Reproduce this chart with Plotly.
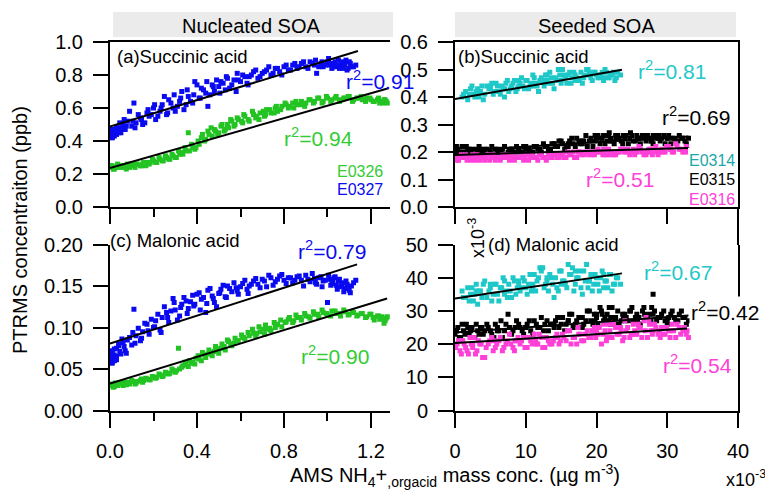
import plotly.graph_objects as go

# ---------------- data ----------------
# AMS NH4+,orgacid mass conc. for each experiment (two sampling passes)
x_E0326 = [0.00, 0.01, 0.02, 0.03, 0.05, 0.06, 0.08, 0.09, 0.11, 0.12,
           0.14, 0.15, 0.17, 0.18, 0.20, 0.21, 0.23, 0.24, 0.26, 0.27,
           0.29, 0.30, 0.32, 0.33, 0.35, 0.36, 0.38, 0.39, 0.41, 0.42,
           0.44, 0.45, 0.47, 0.48, 0.50, 0.51, 0.53, 0.54, 0.56, 0.57,
           0.59, 0.61, 0.62, 0.64, 0.66, 0.67, 0.69, 0.71, 0.72, 0.74,
           0.76, 0.77, 0.79, 0.81, 0.82, 0.84, 0.86, 0.88, 0.90, 0.92,
           0.94, 0.96, 0.98, 1.00, 1.02, 1.04, 1.06, 1.08, 1.10, 1.12,
           1.14, 1.16, 1.18, 1.20, 1.21, 1.23, 1.24, 1.25, 1.26, 1.27]
x_E0326_b = [0.005, 0.015, 0.025, 0.035, 0.045, 0.065, 0.075, 0.085, 0.10, 0.115,
             0.125, 0.145, 0.155, 0.165, 0.185, 0.195, 0.215, 0.225, 0.245, 0.255,
             0.275, 0.285, 0.305, 0.315, 0.335, 0.345, 0.365, 0.375, 0.395, 0.405,
             0.425, 0.435, 0.455, 0.465, 0.485, 0.495, 0.515, 0.525, 0.545, 0.555,
             0.575, 0.585, 0.605, 0.615, 0.635, 0.655, 0.675, 0.685, 0.705, 0.715,
             0.735, 0.755, 0.765, 0.785, 0.805, 0.825, 0.845, 0.855, 0.875, 0.895,
             0.915, 0.935, 0.955, 0.975, 0.995, 1.015, 1.035, 1.055, 1.075, 1.095,
             1.115, 1.135, 1.155, 1.175, 1.195, 1.215, 1.235, 1.255, 1.265, 1.275]
x_E0327 = [0.00, 0.00, 0.01, 0.01, 0.02, 0.02, 0.03, 0.04, 0.05, 0.06,
           0.07, 0.08, 0.10, 0.11, 0.12, 0.14, 0.15, 0.17, 0.18, 0.20,
           0.21, 0.23, 0.24, 0.26, 0.27, 0.29, 0.30, 0.32, 0.33, 0.35,
           0.36, 0.38, 0.39, 0.41, 0.42, 0.44, 0.45, 0.47, 0.48, 0.50,
           0.51, 0.53, 0.54, 0.56, 0.58, 0.59, 0.61, 0.63, 0.64, 0.66,
           0.68, 0.70, 0.72, 0.74, 0.76, 0.78, 0.80, 0.82, 0.84, 0.86,
           0.88, 0.90, 0.92, 0.94, 0.95, 0.97, 0.98, 1.00, 1.01, 1.02,
           1.03, 1.04, 1.05, 1.06, 1.07, 1.08, 1.09, 1.10, 1.11, 1.13]
x_E0327_b = [0.00, 0.01, 0.01, 0.02, 0.02, 0.03, 0.03, 0.04, 0.045, 0.055,
             0.065, 0.075, 0.09, 0.105, 0.115, 0.13, 0.145, 0.16, 0.175, 0.19,
             0.205, 0.22, 0.235, 0.25, 0.265, 0.28, 0.295, 0.31, 0.325, 0.34,
             0.355, 0.37, 0.385, 0.40, 0.415, 0.43, 0.445, 0.46, 0.475, 0.49,
             0.505, 0.52, 0.535, 0.55, 0.57, 0.585, 0.60, 0.62, 0.635, 0.65,
             0.67, 0.69, 0.71, 0.73, 0.75, 0.77, 0.79, 0.81, 0.83, 0.85,
             0.87, 0.89, 0.91, 0.93, 0.945, 0.96, 0.975, 0.99, 1.005, 1.015,
             1.025, 1.035, 1.045, 1.055, 1.065, 1.075, 1.085, 1.095, 1.105, 1.12]
x_E0314 = [1.0, 1.5, 2.0, 2.4, 2.8, 3.2, 3.6, 4.0, 4.5, 5.0,
           5.4, 5.8, 6.2, 6.6, 7.0, 7.4, 7.8, 8.2, 8.6, 9.0,
           9.4, 9.8, 10.2, 10.6, 11.0, 11.4, 11.8, 12.2, 12.6, 13.0,
           13.4, 13.8, 14.2, 14.6, 15.0, 15.4, 15.8, 16.2, 16.6, 17.0,
           17.4, 17.8, 18.2, 18.6, 19.0, 19.4, 19.8, 20.2, 20.6, 21.0,
           21.4, 21.8, 22.2, 22.6, 23.0, 23.4, 12.0, 14.0, 16.0, 18.0]
x_E0314_b = [1.2, 1.8, 2.2, 2.6, 3.0, 3.4, 3.8, 4.2, 4.8, 5.2,
             5.6, 6.0, 6.4, 6.8, 7.2, 7.6, 8.0, 8.4, 8.8, 9.2,
             9.6, 10.0, 10.4, 10.8, 11.2, 11.6, 12.4, 12.8, 13.2, 13.6,
             14.4, 14.8, 15.2, 15.6, 16.4, 16.8, 17.2, 17.6, 18.4, 18.8,
             19.2, 19.6, 20.0, 20.4, 20.8, 21.2, 21.6, 22.0, 22.4, 22.8,
             3.0, 5.0, 7.0, 9.0, 11.0, 13.0, 15.0, 17.0, 19.0, 21.0]
x_E0315 = [0.0, 0.4, 0.8, 1.2, 1.6, 2.0, 2.4, 2.8, 3.2, 3.6,
           4.0, 4.5, 5.0, 5.5, 6.0, 6.5, 7.0, 7.5, 8.0, 8.5,
           9.0, 9.5, 10.0, 10.5, 11.0, 11.5, 12.0, 12.5, 13.0, 13.5,
           14.0, 14.5, 15.0, 15.5, 16.0, 16.5, 17.0, 17.5, 18.0, 18.5,
           19.0, 19.5, 20.0, 20.5, 21.0, 21.5, 22.0, 22.5, 23.0, 23.5,
           24.0, 24.5, 25.0, 25.5, 26.0, 26.5, 27.0, 27.5, 28.0, 28.5,
           29.0, 29.5, 30.0, 30.5, 31.0, 31.5, 32.0, 32.5, 33.0, 0.2,
           19.8, 20.8, 21.8, 22.8, 23.8, 24.8, 25.8, 26.8, 27.8, 28.8]
x_E0315_b = [0.2, 0.6, 1.0, 1.4, 1.8, 2.2, 2.6, 3.0, 3.4, 3.8,
             4.2, 4.7, 5.2, 5.7, 6.2, 6.7, 7.2, 7.7, 8.2, 8.7,
             9.2, 9.7, 10.2, 10.7, 11.2, 11.7, 12.2, 12.7, 13.2, 13.7,
             14.2, 14.7, 15.2, 15.7, 16.2, 16.7, 17.2, 17.7, 18.2, 18.7,
             19.2, 19.7, 20.2, 20.7, 21.2, 21.7, 22.2, 22.7, 23.2, 23.7,
             24.2, 24.7, 25.2, 25.7, 26.2, 26.7, 27.2, 27.7, 28.2, 28.7,
             29.2, 29.7, 30.2, 30.7, 31.2, 31.7, 32.2, 32.7, 2.0, 6.0,
             10.0, 14.0, 16.0, 18.0, 20.0, 22.0, 24.0, 26.0, 28.0, 30.0]
x_E0316 = [0.1, 0.5, 0.9, 1.3, 1.7, 2.1, 2.5, 2.9, 3.3, 3.7,
           4.2, 4.7, 5.2, 5.7, 6.2, 6.7, 7.2, 7.7, 8.2, 8.7,
           9.2, 9.7, 10.2, 10.7, 11.2, 11.7, 12.2, 12.7, 13.2, 13.7,
           14.2, 14.7, 15.2, 15.7, 16.2, 16.7, 17.2, 17.7, 18.2, 18.7,
           19.2, 19.7, 20.2, 20.7, 21.2, 21.7, 22.2, 22.7, 23.2, 23.7,
           24.2, 24.7, 25.2, 25.7, 26.2, 26.7, 27.2, 27.7, 28.2, 28.7,
           29.2, 29.7, 30.2, 30.7, 31.2, 31.7, 32.2, 32.7, 33.0, 1.0,
           20.0, 21.0, 22.0, 23.0, 24.0, 25.0, 26.0, 27.0, 28.0, 29.0]
x_E0316_b = [0.3, 0.7, 1.1, 1.5, 1.9, 2.3, 2.7, 3.1, 3.5, 3.9,
             4.4, 4.9, 5.4, 5.9, 6.4, 6.9, 7.4, 7.9, 8.4, 8.9,
             9.4, 9.9, 10.4, 10.9, 11.4, 11.9, 12.4, 12.9, 13.4, 13.9,
             14.4, 14.9, 15.4, 15.9, 16.4, 16.9, 17.4, 17.9, 18.4, 18.9,
             19.4, 19.9, 20.4, 20.9, 21.4, 21.9, 22.4, 22.9, 23.4, 23.9,
             24.4, 24.9, 25.4, 25.9, 26.4, 26.9, 27.4, 27.9, 28.4, 28.9,
             29.4, 29.9, 30.4, 30.9, 31.4, 31.9, 32.4, 32.8, 2.5, 5.5,
             8.5, 11.5, 14.5, 17.5, 19.5, 21.5, 23.5, 25.5, 27.5, 30.5]

# PTRMS succinic acid (ppb)
succ_E0326 = [0.24, 0.25, 0.23, 0.24, 0.25, 0.24, 0.26, 0.24, 0.25, 0.26,
              0.25, 0.26, 0.27, 0.26, 0.28, 0.27, 0.29, 0.28, 0.30, 0.29,
              0.31, 0.30, 0.32, 0.33, 0.34, 0.45, 0.36, 0.35, 0.38, 0.42,
              0.41, 0.46, 0.43, 0.47, 0.45, 0.49, 0.47, 0.50, 0.52, 0.49,
              0.53, 0.51, 0.55, 0.52, 0.56, 0.54, 0.57, 0.55, 0.59, 0.57,
              0.60, 0.58, 0.61, 0.62, 0.60, 0.63, 0.62, 0.64, 0.63, 0.65,
              0.64, 0.66, 0.64, 0.66, 0.65, 0.67, 0.65, 0.66, 0.67, 0.65,
              0.66, 0.65, 0.66, 0.65, 0.64, 0.65, 0.63, 0.64, 0.65, 0.64]
succ_E0326_b = [0.25, 0.23, 0.24, 0.26, 0.24, 0.25, 0.23, 0.25, 0.26, 0.24,
                0.26, 0.25, 0.27, 0.25, 0.27, 0.29, 0.27, 0.30, 0.28, 0.31,
                0.29, 0.32, 0.30, 0.34, 0.32, 0.36, 0.34, 0.38, 0.36, 0.40,
                0.44, 0.40, 0.44, 0.48, 0.46, 0.44, 0.50, 0.46, 0.48, 0.53,
                0.50, 0.54, 0.52, 0.56, 0.53, 0.58, 0.55, 0.53, 0.58, 0.56,
                0.59, 0.57, 0.61, 0.59, 0.63, 0.61, 0.60, 0.64, 0.62, 0.61,
                0.65, 0.63, 0.66, 0.63, 0.67, 0.64, 0.66, 0.64, 0.66, 0.67,
                0.64, 0.66, 0.67, 0.64, 0.66, 0.64, 0.66, 0.63, 0.65, 0.63]
succ_E0327 = [0.43, 0.46, 0.44, 0.42, 0.45, 0.47, 0.44, 0.48, 0.45, 0.50,
              0.47, 0.52, 0.49, 0.63, 0.51, 0.54, 0.50, 0.57, 0.55, 0.60,
              0.53, 0.58, 0.62, 0.56, 0.65, 0.60, 0.58, 0.64, 0.70, 0.62,
              0.67, 0.63, 0.76, 0.66, 0.72, 0.69, 0.61, 0.74, 0.70, 0.73,
              0.76, 0.71, 0.78, 0.74, 0.70, 0.77, 0.80, 0.75, 0.79, 0.82,
              0.78, 0.81, 0.83, 0.80, 0.84, 0.82, 0.85, 0.83, 0.86, 0.84,
              0.87, 0.85, 0.88, 0.86, 0.81, 0.87, 0.85, 0.88, 0.86, 0.84,
              0.87, 0.85, 0.89, 0.86, 0.84, 0.87, 0.83, 0.88, 0.85, 0.86]
succ_E0327_b = [0.45, 0.42, 0.47, 0.44, 0.43, 0.46, 0.48, 0.45, 0.51, 0.47,
                0.53, 0.49, 0.58, 0.52, 0.48, 0.56, 0.53, 0.51, 0.59, 0.56,
                0.62, 0.55, 0.60, 0.67, 0.57, 0.63, 0.68, 0.61, 0.66, 0.59,
                0.71, 0.64, 0.68, 0.74, 0.66, 0.71, 0.76, 0.68, 0.73, 0.77,
                0.69, 0.75, 0.79, 0.72, 0.77, 0.81, 0.76, 0.79, 0.74, 0.80,
                0.83, 0.79, 0.82, 0.85, 0.81, 0.84, 0.80, 0.86, 0.83, 0.87,
                0.85, 0.88, 0.84, 0.87, 0.89, 0.85, 0.88, 0.86, 0.90, 0.87,
                0.85, 0.88, 0.86, 0.84, 0.88, 0.86, 0.89, 0.84, 0.87, 0.85]
succ_E0314 = [0.40, 0.42, 0.41, 0.44, 0.40, 0.43, 0.42, 0.39, 0.44, 0.43,
              0.41, 0.45, 0.42, 0.44, 0.40, 0.46, 0.43, 0.45, 0.42, 0.44,
              0.47, 0.43, 0.46, 0.44, 0.48, 0.45, 0.42, 0.47, 0.44, 0.46,
              0.49, 0.45, 0.47, 0.50, 0.46, 0.48, 0.45, 0.49, 0.47, 0.48,
              0.46, 0.49, 0.47, 0.50, 0.48, 0.46, 0.49, 0.47, 0.48, 0.46,
              0.49, 0.47, 0.48, 0.46, 0.49, 0.48, 0.46, 0.43, 0.48, 0.45]
succ_E0314_b = [0.41, 0.39, 0.43, 0.41, 0.42, 0.40, 0.44, 0.41, 0.43, 0.45,
                0.42, 0.44, 0.41, 0.43, 0.45, 0.42, 0.44, 0.46, 0.43, 0.45,
                0.44, 0.46, 0.43, 0.45, 0.47, 0.44, 0.46, 0.48, 0.45, 0.47,
                0.46, 0.48, 0.50, 0.47, 0.45, 0.49, 0.47, 0.46, 0.48, 0.50,
                0.47, 0.49, 0.48, 0.47, 0.49, 0.50, 0.47, 0.48, 0.49, 0.47,
                0.42, 0.44, 0.43, 0.46, 0.44, 0.48, 0.45, 0.46, 0.49, 0.47]
succ_E0315 = [0.20, 0.21, 0.19, 0.20, 0.22, 0.20, 0.21, 0.19, 0.20, 0.21,
              0.20, 0.21, 0.20, 0.19, 0.21, 0.20, 0.22, 0.20, 0.21, 0.20,
              0.21, 0.20, 0.22, 0.21, 0.20, 0.22, 0.21, 0.23, 0.22, 0.21,
              0.23, 0.22, 0.24, 0.21, 0.23, 0.25, 0.22, 0.24, 0.23, 0.26,
              0.24, 0.22, 0.25, 0.23, 0.26, 0.24, 0.25, 0.23, 0.26, 0.24,
              0.25, 0.23, 0.26, 0.24, 0.25, 0.26, 0.24, 0.25, 0.23, 0.25,
              0.24, 0.26, 0.25, 0.23, 0.25, 0.24, 0.25, 0.24, 0.25, 0.22,
              0.26, 0.25, 0.27, 0.25, 0.26, 0.27, 0.25, 0.26, 0.24, 0.26]
succ_E0315_b = [0.21, 0.20, 0.22, 0.19, 0.21, 0.20, 0.19, 0.21, 0.22, 0.20,
                0.21, 0.19, 0.22, 0.21, 0.20, 0.21, 0.19, 0.21, 0.20, 0.22,
                0.20, 0.22, 0.21, 0.20, 0.22, 0.21, 0.20, 0.22, 0.21, 0.23,
                0.22, 0.24, 0.23, 0.22, 0.24, 0.23, 0.25, 0.23, 0.24, 0.22,
                0.25, 0.24, 0.26, 0.25, 0.23, 0.26, 0.24, 0.26, 0.25, 0.23,
                0.26, 0.25, 0.24, 0.26, 0.23, 0.25, 0.26, 0.24, 0.26, 0.25,
                0.25, 0.23, 0.26, 0.25, 0.24, 0.26, 0.25, 0.23, 0.21, 0.20,
                0.21, 0.23, 0.22, 0.24, 0.25, 0.24, 0.26, 0.25, 0.26, 0.25]
succ_E0316 = [0.18, 0.17, 0.19, 0.18, 0.17, 0.18, 0.19, 0.17, 0.18, 0.18,
              0.17, 0.19, 0.18, 0.17, 0.18, 0.19, 0.18, 0.17, 0.19, 0.18,
              0.18, 0.17, 0.19, 0.18, 0.18, 0.17, 0.19, 0.18, 0.19, 0.18,
              0.19, 0.18, 0.19, 0.18, 0.19, 0.20, 0.18, 0.20, 0.19, 0.20,
              0.20, 0.19, 0.21, 0.20, 0.19, 0.21, 0.20, 0.19, 0.20, 0.21,
              0.20, 0.19, 0.21, 0.20, 0.21, 0.19, 0.20, 0.21, 0.20, 0.19,
              0.21, 0.20, 0.22, 0.20, 0.23, 0.21, 0.20, 0.22, 0.20, 0.18,
              0.20, 0.21, 0.19, 0.20, 0.21, 0.20, 0.22, 0.19, 0.21, 0.20]
succ_E0316_b = [0.17, 0.18, 0.18, 0.19, 0.18, 0.17, 0.18, 0.19, 0.17, 0.18,
                0.18, 0.17, 0.19, 0.18, 0.17, 0.18, 0.19, 0.18, 0.17, 0.18,
                0.19, 0.18, 0.17, 0.19, 0.18, 0.19, 0.18, 0.17, 0.18, 0.19,
                0.18, 0.19, 0.18, 0.20, 0.19, 0.18, 0.20, 0.19, 0.20, 0.19,
                0.19, 0.20, 0.20, 0.19, 0.21, 0.20, 0.19, 0.20, 0.21, 0.20,
                0.21, 0.20, 0.19, 0.21, 0.20, 0.20, 0.21, 0.19, 0.22, 0.20,
                0.20, 0.22, 0.21, 0.20, 0.22, 0.21, 0.20, 0.21, 0.18, 0.18,
                0.18, 0.18, 0.19, 0.20, 0.20, 0.19, 0.21, 0.20, 0.20, 0.21]

# PTRMS malonic acid (ppb for nucleated, x10^-3 ppb for seeded)
mal_E0326 = [0.030, 0.032, 0.029, 0.031, 0.033, 0.030, 0.034, 0.032, 0.035, 0.033,
             0.036, 0.034, 0.038, 0.037, 0.040, 0.039, 0.043, 0.041, 0.045, 0.044,
             0.048, 0.046, 0.050, 0.052, 0.055, 0.053, 0.058, 0.056, 0.062, 0.060,
             0.064, 0.068, 0.066, 0.071, 0.069, 0.075, 0.073, 0.085, 0.078, 0.081,
             0.084, 0.088, 0.086, 0.090, 0.093, 0.089, 0.095, 0.092, 0.098, 0.096,
             0.100, 0.104, 0.101, 0.107, 0.110, 0.106, 0.112, 0.109, 0.114, 0.111,
             0.116, 0.113, 0.118, 0.115, 0.120, 0.117, 0.114, 0.119, 0.116, 0.118,
             0.115, 0.117, 0.113, 0.116, 0.112, 0.114, 0.110, 0.113, 0.105, 0.111]
mal_E0326_b = [0.031, 0.028, 0.033, 0.030, 0.032, 0.034, 0.031, 0.033, 0.036, 0.032,
               0.035, 0.038, 0.036, 0.039, 0.037, 0.041, 0.040, 0.044, 0.042, 0.046,
               0.045, 0.050, 0.048, 0.075, 0.054, 0.058, 0.060, 0.057, 0.063, 0.066,
               0.070, 0.067, 0.073, 0.070, 0.077, 0.074, 0.080, 0.077, 0.083, 0.080,
               0.087, 0.084, 0.091, 0.088, 0.094, 0.098, 0.093, 0.101, 0.098, 0.103,
               0.099, 0.106, 0.103, 0.109, 0.106, 0.112, 0.108, 0.115, 0.112, 0.117,
               0.113, 0.119, 0.116, 0.121, 0.117, 0.114, 0.120, 0.117, 0.121, 0.115,
               0.119, 0.114, 0.117, 0.112, 0.116, 0.109, 0.114, 0.111, 0.108, 0.113]
mal_E0327 = [0.060, 0.066, 0.058, 0.070, 0.063, 0.074, 0.061, 0.078, 0.068, 0.082,
             0.072, 0.085, 0.079, 0.122, 0.090, 0.084, 0.095, 0.104, 0.092, 0.100,
             0.108, 0.097, 0.112, 0.118, 0.106, 0.135, 0.121, 0.114, 0.128, 0.132,
             0.123, 0.139, 0.128, 0.142, 0.134, 0.118, 0.145, 0.138, 0.130, 0.141,
             0.146, 0.137, 0.150, 0.143, 0.148, 0.140, 0.153, 0.146, 0.150, 0.156,
             0.152, 0.158, 0.149, 0.160, 0.155, 0.162, 0.157, 0.160, 0.154, 0.161,
             0.157, 0.163, 0.155, 0.159, 0.152, 0.161, 0.156, 0.130, 0.158, 0.153,
             0.160, 0.151, 0.156, 0.149, 0.154, 0.147, 0.152, 0.145, 0.150, 0.157]
mal_E0327_b = [0.064, 0.057, 0.072, 0.067, 0.060, 0.075, 0.065, 0.080, 0.071, 0.086,
               0.077, 0.069, 0.088, 0.094, 0.081, 0.099, 0.087, 0.105, 0.096, 0.110,
               0.101, 0.116, 0.094, 0.125, 0.112, 0.120, 0.130, 0.109, 0.124, 0.136,
               0.117, 0.131, 0.126, 0.140, 0.121, 0.136, 0.129, 0.147, 0.135, 0.125,
               0.142, 0.151, 0.136, 0.147, 0.154, 0.144, 0.149, 0.157, 0.141, 0.152,
               0.159, 0.148, 0.156, 0.163, 0.151, 0.158, 0.164, 0.153, 0.160, 0.157,
               0.162, 0.150, 0.158, 0.165, 0.154, 0.160, 0.149, 0.157, 0.163, 0.151,
               0.155, 0.161, 0.146, 0.158, 0.152, 0.143, 0.156, 0.148, 0.142, 0.154]
mal_E0314 = [36, 34, 33, 37, 35, 32, 36, 38, 34, 37,
             35, 38, 33, 37, 39, 34, 36, 40, 35, 38,
             37, 39, 35, 41, 38, 36, 40, 42, 37, 39,
             41, 38, 40, 36, 42, 39, 37, 41, 43, 38,
             40, 37, 42, 44, 39, 36, 41, 38, 40, 37,
             39, 41, 36, 38, 40, 38, 43, 34, 44, 35]
mal_E0314_b = [34, 37, 35, 33, 38, 36, 34, 39, 36, 33,
               38, 35, 37, 40, 36, 38, 34, 39, 37, 36,
               40, 37, 38, 36, 41, 39, 43, 38, 36, 40,
               37, 42, 39, 38, 41, 36, 40, 42, 39, 37,
               41, 38, 40, 36, 42, 39, 37, 41, 38, 40,
               36, 38, 35, 39, 37, 40, 38, 42, 39, 41]
mal_E0315 = [23, 25, 22, 24, 26, 23, 25, 22, 24, 25,
             23, 26, 24, 22, 25, 27, 24, 29, 23, 25,
             26, 24, 25, 27, 23, 26, 25, 24, 27, 26,
             25, 28, 26, 24, 27, 29, 26, 28, 25, 27,
             30, 26, 28, 31, 27, 29, 26, 28, 30, 27,
             29, 27, 31, 28, 26, 30, 28, 29, 35, 27,
             28, 30, 26, 29, 28, 27, 30, 28, 27, 24,
             27, 29, 31, 26, 28, 30, 27, 29, 31, 28]
mal_E0315_b = [24, 22, 26, 23, 25, 24, 22, 26, 23, 25,
               24, 25, 23, 26, 24, 22, 26, 25, 24, 27,
               25, 23, 26, 24, 27, 25, 28, 26, 24, 26,
               27, 25, 28, 26, 29, 25, 27, 28, 26, 30,
               27, 29, 26, 30, 28, 27, 31, 28, 26, 29,
               28, 30, 27, 29, 26, 31, 28, 27, 30, 28,
               29, 27, 28, 30, 27, 29, 28, 26, 25, 24,
               25, 26, 27, 28, 29, 28, 27, 28, 29, 27]
mal_E0316 = [19, 21, 17, 20, 18, 22, 19, 17, 21, 20,
             16, 20, 22, 19, 21, 18, 20, 23, 19, 21,
             20, 22, 19, 21, 23, 20, 22, 19, 21, 20,
             22, 20, 23, 21, 24, 22, 20, 23, 21, 24,
             22, 25, 23, 20, 24, 26, 22, 25, 23, 21,
             24, 22, 26, 23, 25, 27, 22, 24, 26, 23,
             25, 23, 24, 26, 22, 25, 24, 23, 22, 21,
             24, 26, 22, 25, 27, 23, 25, 28, 24, 22]
mal_E0316_b = [20, 18, 21, 19, 17, 20, 22, 18, 20, 16,
               19, 21, 18, 20, 22, 19, 21, 20, 18, 22,
               21, 19, 22, 20, 21, 23, 19, 22, 20, 21,
               23, 21, 22, 24, 20, 22, 25, 21, 23, 22,
               24, 22, 25, 23, 21, 24, 26, 23, 25, 22,
               25, 23, 24, 26, 22, 24, 27, 23, 25, 24,
               23, 25, 22, 24, 26, 23, 25, 24, 20, 21,
               21, 20, 22, 23, 24, 22, 24, 23, 26, 24]

# linear fits (end points)
fit_a_E0326_x = [0.0, 1.28];  fit_a_E0326_y = [0.236, 0.72]
fit_a_E0327_x = [0.0, 1.14];  fit_a_E0327_y = [0.487, 0.945]
fit_b_E0314_x = [0.0, 23.6];  fit_b_E0314_y = [0.393, 0.499]
fit_b_E0315_x = [0.0, 33.0];  fit_b_E0315_y = [0.203, 0.256]
fit_b_E0316_x = [0.0, 33.0];  fit_b_E0316_y = [0.1895, 0.215]
fit_c_E0326_x = [0.0, 1.274]; fit_c_E0326_y = [0.0325, 0.135]
fit_c_E0327_x = [0.0, 1.136]; fit_c_E0327_y = [0.0807, 0.176]
fit_d_E0314_x = [0.0, 23.6];  fit_d_E0314_y = [33.7, 41.3]
fit_d_E0315_x = [0.0, 33.0];  fit_d_E0315_y = [23.5, 28.6]
fit_d_E0316_x = [0.0, 32.8];  fit_d_E0316_y = [20.3, 24.7]

r2_labels = {"a_E0327": "0.91", "a_E0326": "0.94",
             "b_E0314": "0.81", "b_E0315": "0.69", "b_E0316": "0.51",
             "c_E0327": "0.79", "c_E0326": "0.90",
             "d_E0314": "0.67", "d_E0315": "0.42", "d_E0316": "0.54"}

# ---------------- style ----------------
# the page body has an 8px margin: lay the figure out in window pixels
OFF = 8
W, H = 773 - OFF, 496 - OFF
FONT = "Arial, Liberation Sans, sans-serif"
C_GREEN = "#22C322"
C_BLUE = "#0A0AF0"
C_CYAN = "#1EC8C8"
C_BLACK = "#000000"
C_MAG = "#FF40D8"
T_GREEN = "#33CC33"
T_CYAN = "#22C8C8"
T_CYAN_DARK = "#1AA8A8"


def px(x):
    return (x - OFF) / W


def py(y):
    return 1 - (y - OFF) / H


fig = go.Figure()


def scatter(x, y, color, xa, ya):
    fig.add_trace(go.Scatter(x=x, y=y, mode="markers", xaxis=xa, yaxis=ya,
                             marker=dict(symbol="square", size=5, color=color,
                                         line=dict(width=0)),
                             showlegend=False, hoverinfo="skip"))


def fitline(x, y, xa, ya):
    fig.add_trace(go.Scatter(x=x, y=y, mode="lines", xaxis=xa, yaxis=ya,
                             line=dict(color="black", width=2),
                             showlegend=False, hoverinfo="skip"))


# (a)
scatter(x_E0326 + x_E0326_b, succ_E0326 + succ_E0326_b, C_GREEN, "x", "y")
scatter(x_E0327 + x_E0327_b, succ_E0327 + succ_E0327_b, C_BLUE, "x", "y")
fitline(fit_a_E0326_x, fit_a_E0326_y, "x", "y")
fitline(fit_a_E0327_x, fit_a_E0327_y, "x", "y")
# (b)
scatter(x_E0314 + x_E0314_b, succ_E0314 + succ_E0314_b, C_CYAN, "x2", "y2")
scatter(x_E0315 + x_E0315_b, succ_E0315 + succ_E0315_b, C_BLACK, "x2", "y2")
scatter(x_E0316 + x_E0316_b, succ_E0316 + succ_E0316_b, C_MAG, "x2", "y2")
fitline(fit_b_E0314_x, fit_b_E0314_y, "x2", "y2")
fitline(fit_b_E0315_x, fit_b_E0315_y, "x2", "y2")
fitline(fit_b_E0316_x, fit_b_E0316_y, "x2", "y2")
# (c)
scatter(x_E0326 + x_E0326_b, mal_E0326 + mal_E0326_b, C_GREEN, "x3", "y3")
scatter(x_E0327 + x_E0327_b, mal_E0327 + mal_E0327_b, C_BLUE, "x3", "y3")
fitline(fit_c_E0326_x, fit_c_E0326_y, "x3", "y3")
fitline(fit_c_E0327_x, fit_c_E0327_y, "x3", "y3")
# (d)
scatter(x_E0314 + x_E0314_b, mal_E0314 + mal_E0314_b, C_CYAN, "x4", "y4")
scatter(x_E0315 + x_E0315_b, mal_E0315 + mal_E0315_b, C_BLACK, "x4", "y4")
scatter(x_E0316 + x_E0316_b, mal_E0316 + mal_E0316_b, C_MAG, "x4", "y4")
fitline(fit_d_E0314_x, fit_d_E0314_y, "x4", "y4")
fitline(fit_d_E0315_x, fit_d_E0315_y, "x4", "y4")
fitline(fit_d_E0316_x, fit_d_E0316_y, "x4", "y4")

tickfont = dict(family=FONT, size=20, color="black")
base_axis = dict(showgrid=False, zeroline=False, showline=True, linecolor="black",
                 linewidth=2, ticks="outside", ticklen=15, tickwidth=2,
                 tickcolor="black", tickfont=tickfont, ticklabelstandoff=6,
                 automargin=False)

dom_xl = [px(110), px(390)]
dom_xr = [px(455), px(738)]
dom_yt = [py(207), py(42)]
dom_yb = [py(410.5), py(244.5)]
xr_l = [0, 1.2874]
minor_l = dict(tickvals=[0.2, 0.6, 1.0], ticks="outside", ticklen=8,
               tickwidth=2, tickcolor="black")

fig.update_layout(
    width=W, height=H, autosize=False,
    margin=dict(l=0, r=0, t=0, b=0, pad=0),
    paper_bgcolor="white", plot_bgcolor="rgba(0,0,0,0)",
    font=dict(family=FONT, color="black"),
    xaxis=dict(base_axis, domain=dom_xl, anchor="y", range=xr_l, tickvals=[0, 0.4, 0.8, 1.2],
               showticklabels=False, mirror=True, minor=minor_l),
    yaxis=dict(base_axis, domain=dom_yt, anchor="x", range=[0, 1.0], dtick=0.2,
               tickformat=".1f"),
    xaxis2=dict(base_axis, domain=dom_xr, anchor="y2", range=[0, 40], dtick=10,
                showticklabels=False, mirror=True),
    yaxis2=dict(base_axis, domain=dom_yt, anchor="x2", range=[0, 0.6], dtick=0.1,
                tickformat=".1f", mirror=True),
    xaxis3=dict(base_axis, domain=dom_xl, anchor="y3", range=xr_l, tickvals=[0, 0.4, 0.8, 1.2],
                tickformat=".1f", minor=minor_l),
    yaxis3=dict(base_axis, domain=dom_yb, anchor="x3", range=[0, 0.2], dtick=0.05,
                tickformat=".2f"),
    xaxis4=dict(base_axis, domain=dom_xr, anchor="y4", range=[0, 40], dtick=10),
    yaxis4=dict(base_axis, domain=dom_yb, anchor="x4", range=[0, 50], dtick=10,
                mirror=True),
)

shapes = [
    dict(type="rect", xref="paper", yref="paper", x0=px(113), x1=px(393), y0=py(37), y1=py(12),
         fillcolor="#EBEBEB", line=dict(width=0), layer="below"),
    dict(type="rect", xref="paper", yref="paper", x0=px(455), x1=px(736), y0=py(37), y1=py(12),
         fillcolor="#EBEBEB", line=dict(width=0), layer="below"),
    dict(type="line", xref="paper", yref="paper", x0=px(738), x1=px(738), y0=py(207), y1=py(245),
         line=dict(color="black", width=2)),
    dict(type="rect", xref="paper", yref="paper", x0=px(688), x1=px(736.5), y0=py(206), y1=py(148),
         fillcolor="white", line=dict(width=0), layer="above"),
]
fig.update_layout(shapes=shapes)

ann = []


def text(t, x, y, size, color="black", xanchor="left", yanchor="middle", angle=0, bg=None):
    d = dict(text=t, x=px(x), y=py(y), xref="paper", yref="paper", showarrow=False,
             xanchor=xanchor, yanchor=yanchor, textangle=angle,
             font=dict(family=FONT, size=size, color=color))
    if bg:
        d["bgcolor"] = bg
    ann.append(d)


def r2(key, x, y, color, bg=None):
    text("r<sup>2</sup>=" + r2_labels[key], x, y, 21, color, bg=bg)


text("Nucleated SOA", 252, 26, 20, xanchor="center")
text("Seeded SOA", 596, 26, 20, xanchor="center")

text("(a)Succinic acid", 115, 57, 18.5)
text("(b)Succinic acid", 456, 57, 18.5)
text("(c) Malonic acid", 108, 240, 18.5)
text("(d) Malonic acid", 486, 244, 18.5)

r2("a_E0327", 344, 80, C_BLUE)
r2("a_E0326", 282, 137, T_GREEN)
r2("b_E0314", 636, 70, T_CYAN)
r2("b_E0315", 660, 116, "black")
r2("b_E0316", 584, 178, C_MAG)
r2("c_E0327", 296, 250, C_BLUE)
r2("c_E0326", 299, 355, T_GREEN)
r2("d_E0314", 642, 271, T_CYAN)
r2("d_E0315", 689, 311, "black", bg="white")
r2("d_E0316", 661, 364, C_MAG)

text("E0326", 385, 171, 16, T_GREEN, xanchor="right")
text("E0327", 385, 189, 16, C_BLUE, xanchor="right")
text("E0314", 737, 160, 16, T_CYAN_DARK, xanchor="right")
text("E0315", 737, 179, 16, "black", xanchor="right")
text("E0316", 737, 199, 16, C_MAG, xanchor="right")

text("x10<sup>-3</sup>", 476, 238, 18, xanchor="center", angle=-90)
text("x10<sup>-3</sup>", 724, 478, 18)

text("PTRMS concentraiton (ppb)", 20, 230, 20, xanchor="center", angle=-90)
text("AMS NH<sub>4</sub>+<sub>,orgacid</sub> mass conc. (µg m<sup>-3</sup>)",
     455, 475, 20, xanchor="center")

fig.update_layout(annotations=ann)

fig.write_html("out.html")
